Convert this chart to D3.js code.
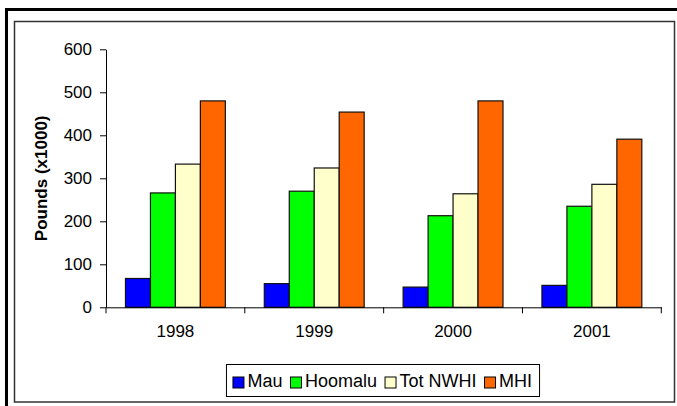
<!DOCTYPE html>
<html>
<head>
<meta charset="utf-8">
<script src="https://cdn.jsdelivr.net/npm/d3@7"></script>
<style>
  html, body { margin: 0; padding: 0; background: #fff; }
  svg { display: block; font-family: "Liberation Sans", Arial, sans-serif; }
</style>
</head>
<body>
<figure id="bar" style="margin:0"></figure>
<script>
const years = ['1998', '1999', '2000', '2001'];
const series = ['Mau', 'Hoomalu', 'Tot NWHI', 'MHI'];
const mau = [67, 55, 47, 51];
const hoomalu = [266, 270, 213, 235];
const totNWHI = [333, 324, 264, 286];
const mhi = [480, 454, 480, 391];
const yTicks = [0, 100, 200, 300, 400, 500, 600];
const colors = ['#0000ff', '#00ff00', '#ffffcc', '#ff6600'];

const width = 677, height = 406;
const plot = { left: 106, right: 661.3, top: 49.3, bottom: 307.3 };

const svg = d3.select('figure#bar')
  .append('svg')
  .attr('width', width)
  .attr('height', height);

// outer heavy frame (only top and left are visible in the window)
svg.append('rect')
  .attr('x', 6.5).attr('y', 9.5)
  .attr('width', 800).attr('height', 600)
  .attr('fill', 'none')
  .attr('stroke', '#000')
  .attr('stroke-width', 3);

// chart area border
svg.append('rect')
  .attr('x', 14.5).attr('y', 21.5)
  .attr('width', 660).attr('height', 380.5)
  .attr('fill', '#fff')
  .attr('stroke', '#333')
  .attr('stroke-width', 1.5);

const rows = [mau, hoomalu, totNWHI, mhi];
const data = years.map((yr, i) => ({
  year: yr,
  values: series.map((s, j) => ({ key: s, value: rows[j][i], color: colors[j] }))
}));

// scales
const x0 = d3.scaleBand()
  .domain(years)
  .range([plot.left, plot.right])
  .padding(0);

const x1 = d3.scaleBand()
  .domain(series)
  .range([0, x0.bandwidth()])
  .paddingInner(0)
  .paddingOuter(0.78);

const y = d3.scaleLinear()
  .domain([0, 600])
  .range([plot.bottom, plot.top]);

// bars
svg.append('g')
  .selectAll('g')
  .data(data)
  .enter()
  .append('g')
  .attr('transform', d => 'translate(' + x0(d.year) + ',0)')
  .selectAll('rect')
  .data(d => d.values)
  .enter()
  .append('rect')
  .attr('x', d => x1(d.key))
  .attr('y', d => y(d.value))
  .attr('width', x1.bandwidth())
  .attr('height', d => y(0) - y(d.value))
  .attr('fill', d => d.color)
  .attr('stroke', '#111')
  .attr('stroke-width', 1.2);

// y axis
const yAxis = svg.append('g')
  .attr('transform', 'translate(' + plot.left + ',0)')
  .call(d3.axisLeft(y).tickValues(yTicks).tickSize(6).tickPadding(8).tickSizeOuter(0));
yAxis.selectAll('text').style('font-size', '17px').attr('fill', '#000');
yAxis.selectAll('line, path').attr('stroke', '#000');

// x axis: labels at centers, ticks at category boundaries
const xAxis = svg.append('g')
  .attr('transform', 'translate(0,' + plot.bottom + ')')
  .call(d3.axisBottom(x0).tickSize(0).tickPadding(18).tickSizeOuter(0));
xAxis.selectAll('text').style('font-size', '17px').attr('fill', '#000');
xAxis.select('path').attr('stroke', '#000');

const bounds = years.map(d => x0(d)).concat([x0(years[years.length - 1]) + x0.bandwidth()]);
xAxis.selectAll('line.bound')
  .data(bounds)
  .enter()
  .append('line')
  .attr('class', 'bound')
  .attr('x1', d => d).attr('x2', d => d)
  .attr('y1', 0).attr('y2', 6)
  .attr('stroke', '#000');

// y axis title
svg.append('text')
  .attr('transform', 'translate(47,' + ((plot.top + plot.bottom) / 2) + ') rotate(-90)')
  .attr('text-anchor', 'middle')
  .style('font-size', '17px')
  .style('font-weight', 'bold')
  .text('Pounds (x1000)');

// legend
const legend = svg.append('g');
const legendBox = legend.append('rect')
  .attr('fill', '#fff')
  .attr('stroke', '#000')
  .attr('stroke-width', 1);

let cx = 0;
const items = legend.selectAll('g.item')
  .data(series)
  .enter()
  .append('g')
  .attr('class', 'item');

items.each(function(d, i) {
  const g = d3.select(this);
  g.append('rect')
    .attr('x', cx).attr('y', -10)
    .attr('width', 11).attr('height', 11)
    .attr('fill', colors[i])
    .attr('stroke', '#000');
  const t = g.append('text')
    .attr('x', cx + 14.5).attr('y', 0)
    .style('font-size', '18px')
    .text(d);
  cx += 14.5 + t.node().getComputedTextLength() + 8;
});
const legendW = cx - 8;
const legendX = 382.5 - legendW / 2;
items.attr('transform', 'translate(' + legendX + ',387)');
legendBox
  .attr('x', legendX - 6.5).attr('y', 364.5)
  .attr('width', legendW + 14).attr('height', 32);
</script>
</body>
</html>
